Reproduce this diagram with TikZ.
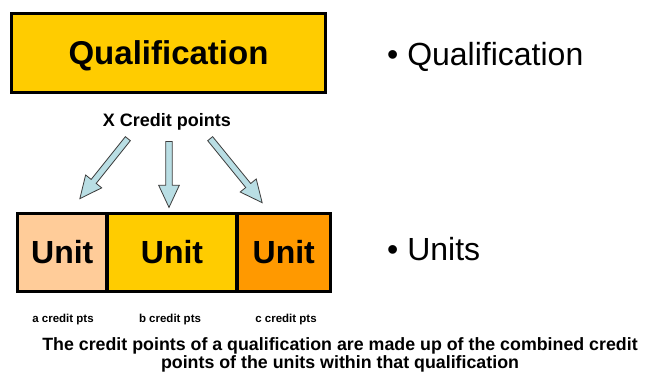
\documentclass[tikz,border=0pt]{standalone}
\usepackage{fontspec}
\setmainfont{Liberation Sans}
\usetikzlibrary{shapes.arrows,calc}
\definecolor{qualfill}{HTML}{FFCC00}
\definecolor{unitA}{HTML}{FFCC99}
\definecolor{unitB}{HTML}{FFCC00}
\definecolor{unitC}{HTML}{FF9900}
\definecolor{arrowfill}{HTML}{B9DEE4}
\definecolor{arrowline}{HTML}{3C3C3C}
\tikzset{
  box/.style={draw=black, line width=3.3pt, inner sep=0pt, rectangle,
    font=\fontsize{32}{36}\selectfont\bfseries, text height=22.9pt, text depth=0pt},
  blockarrow/.style={single arrow, draw=arrowline, fill=arrowfill, line width=0.8pt,
    inner xsep=0pt, inner ysep=2.8pt, minimum width=14pt, single arrow tip angle=50,
    anchor=center},
  smalllabel/.style={font=\fontsize{11.5}{13}\selectfont\bfseries, anchor=base},
  bullettext/.style={font=\fontsize{32}{36}\selectfont, anchor=base west, inner sep=0pt},
}
\newcommand{\blockarr}[2]{%
  \path let \p1=($(#2)-(#1)$), \n1={atan2(\y1,\x1)}, \n2={veclen(\x1,\y1)} in
    node[blockarrow, minimum height=\n2, rotate=\n1] at ($(#1)!0.5!(#2)$) {};}
\begin{document}
\begin{tikzpicture}[x=1pt,y=-1pt]
\useasboundingbox[fill=white] (0,0) rectangle (659,378);
% qualification box
\node[box, fill=qualfill, minimum width=314pt, minimum height=79pt,
  font=\fontsize{33}{38}\selectfont\bfseries, text height=23.6pt] (qual) at (168.5,53) {Qualification};
% X credit points
\node[font=\fontsize{18}{21}\selectfont\bfseries, anchor=base] (xcp) at (167,126) {X Credit points};
% arrows
\coordinate (t1) at (130,136);
\coordinate (h1) at (82,196);
\coordinate (t2) at (169,138);
\coordinate (h2) at (169,204);
\coordinate (t3) at (208,136);
\coordinate (h3) at (260,200);
\blockarr{t1}{h1}
\blockarr{t2}{h2}
\blockarr{t3}{h3}
% units
\node[box, fill=unitA, minimum width=89.5pt, minimum height=78pt] (u1) at (62.25,252.5) {Unit};
\node[box, fill=unitB, minimum width=130pt, minimum height=78pt] (u2) at (172,252.5) {Unit};
\node[box, fill=unitC, minimum width=93.5pt, minimum height=78pt] (u3) at (283.75,252.5) {Unit};
% labels
\node[smalllabel] (la) at (63,322) {a credit pts};
\node[smalllabel] (lb) at (170,322) {b credit pts};
\node[smalllabel] (lc) at (286,322) {c credit pts};
% caption
\node[font=\fontsize{17.8}{18.5}\selectfont\bfseries, align=center, anchor=base] (cap) at (340,368.5)
  {The credit points of a qualification are made up of the combined credit\\points of the units within that qualification};
% bullets
\node[bullettext] (bq) at (387,65) {\textbullet\ Qualification};
\node[bullettext] (bu) at (387,260) {\textbullet\ Units};
\end{tikzpicture}
\end{document}
